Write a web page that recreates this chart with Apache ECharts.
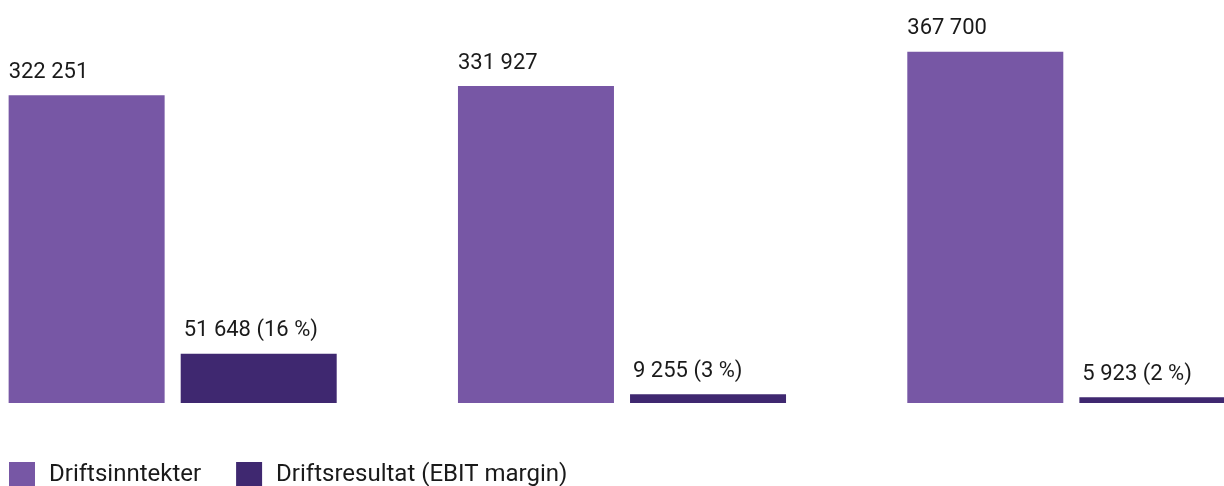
<!DOCTYPE html>
<html>
<head>
<meta charset="utf-8">
<script src="https://cdn.jsdelivr.net/npm/echarts@6/dist/echarts.min.js"></script>
<style>
    html, body { margin: 0; padding: 0; background: #fff; }
    #chart { width: 1224px; height: 486px; }
</style>
</head>
<body>
<div id="chart"></div>
<script>
// kategorier (ikke vist i figuren)
const periods = ['2021', '2022', '2023'];
const revenue = [322251, 331927, 367700];      // Driftsinntekter
const ebit = [51648, 9255, 5923];              // Driftsresultat
const margin = [16, 3, 2];                     // EBIT margin i %

const fmt = v => String(v).replace(/\B(?=(\d{3})+(?!\d))/g, ' ');

const chart = echarts.init(document.getElementById('chart'));
const labelStyle = {
    show: true,
    position: [0, -12],
    align: 'left',
    verticalAlign: 'bottom',
    fontFamily: 'Roboto',
    fontSize: 22,
    color: '#1a1a1a'
};

chart.setOption({
    animation: false,
    grid: { left: -52, right: -72, top: 21, bottom: 83, outerBoundsMode: 'none', containLabel: false },
    xAxis: {
        type: 'category',
        data: periods,
        axisLine: { show: false },
        axisTick: { show: false },
        axisLabel: { show: false }
    },
    yAxis: {
        type: 'value',
        min: 0,
        max: 400000,
        show: false,
        splitLine: { show: false }
    },
    legend: {
        left: 9,
        top: 462,
        padding: 0,
        itemWidth: 26,
        itemHeight: 25,
        itemGap: 35,
        icon: 'rect',
        textStyle: { fontFamily: 'Roboto', fontSize: 24, color: '#1a1a1a', padding: [0, 0, 0, 9] },
        data: ['Driftsinntekter', 'Driftsresultat (EBIT margin)']
    },
    series: [
        {
            name: 'Driftsinntekter',
            type: 'bar',
            data: revenue,
            barWidth: 156,
            barGap: '10.3%',
            itemStyle: { color: '#7757a5' },
            label: Object.assign({}, labelStyle, {
                formatter: p => fmt(p.value)
            })
        },
        {
            name: 'Driftsresultat (EBIT margin)',
            type: 'bar',
            data: ebit,
            barWidth: 156,
            itemStyle: { color: '#3f2870' },
            label: Object.assign({}, labelStyle, {
                position: [3, -12],
                formatter: p => fmt(p.value) + ' (' + margin[p.dataIndex] + ' %)'
            })
        }
    ]
});
</script>
</body>
</html>
